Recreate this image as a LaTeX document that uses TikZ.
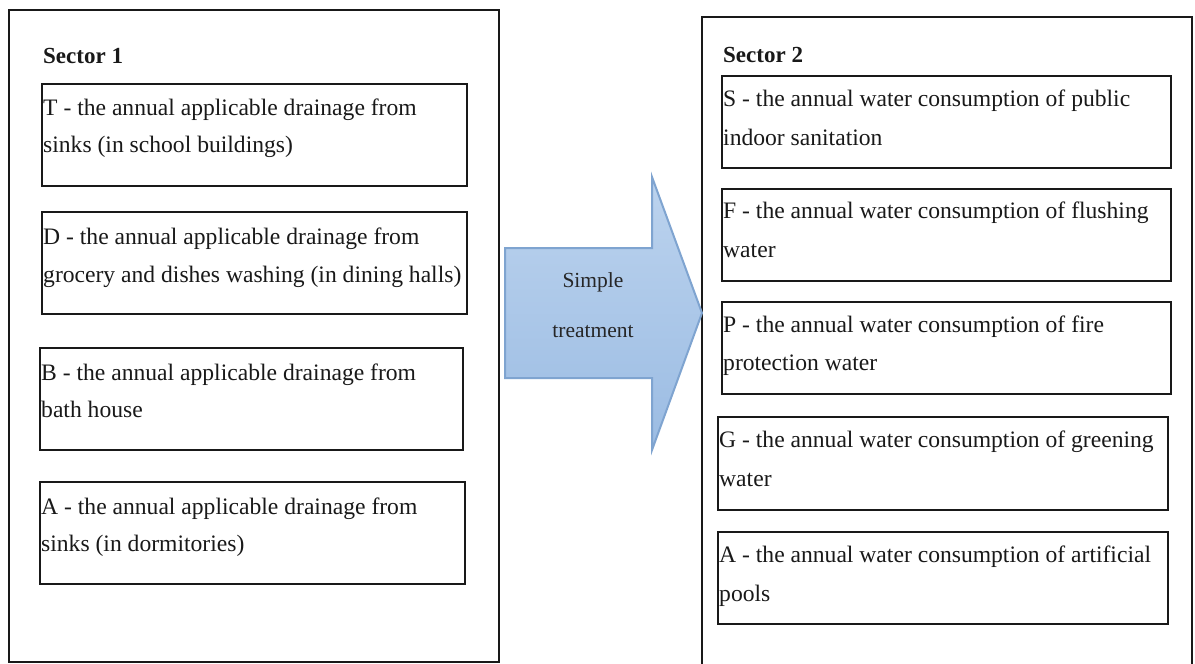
\documentclass[tikz,border=0pt]{standalone}
\usepackage{fontspec}
\setmainfont{Liberation Serif}
\begin{document}
\begin{tikzpicture}[x=1pt,y=-1pt,
  outerbox/.style={draw=black!90,line width=1.8pt},
  itembox/.style={draw=black!90,line width=1.8pt},
  itemtxt/.style={anchor=base west,inner sep=0pt,text=black!90,font=\fontsize{23.6}{28}\selectfont},
  headtxt/.style={anchor=base west,inner sep=0pt,text=black!90,font=\fontsize{23}{26}\selectfont\bfseries},
  arrowshape/.style={draw=arrowedge,line width=2pt,line join=miter,top color=arrowtop,bottom color=arrowbot}]
\definecolor{arrowtop}{HTML}{BCD3EE}
\definecolor{arrowbot}{HTML}{9BBCE3}
\definecolor{arrowedge}{HTML}{7FA4D0}
\clip (0,0) rectangle (1195,664);
\fill[white] (0,0) rectangle (1195,664);
% outer sector boxes
\draw[outerbox] (9,10) rectangle (499,662);
\draw[outerbox] (702,17) rectangle (1192,690);
\node[headtxt] (s1) at (43,63) {Sector 1};
\node[headtxt] (s2) at (723,62) {Sector 2};
% left boxes
\draw[itembox] (42,84) rectangle (467,186);
\node[itemtxt] (t1) at (43,115) {T - the annual applicable drainage from};
\node[itemtxt] (t2) at (43,152) {sinks (in school buildings)};
\draw[itembox] (42,212) rectangle (467,314);
\node[itemtxt] (d1) at (43,244) {D - the annual applicable drainage from};
\node[itemtxt] (d2) at (43,282) {grocery and dishes washing (in dining halls)};
\draw[itembox] (40,348) rectangle (463,450);
\node[itemtxt] (b1) at (41,380) {B - the annual applicable drainage from};
\node[itemtxt] (b2) at (41,417) {bath house};
\draw[itembox] (40,482) rectangle (465,584);
\node[itemtxt] (a1) at (41,514) {A - the annual applicable drainage from};
\node[itemtxt] (a2) at (41,551) {sinks (in dormitories)};
% right boxes
\draw[itembox] (722,76) rectangle (1171,168);
\node[itemtxt] (r1a) at (723,106) {S - the annual water consumption of public};
\node[itemtxt] (r1b) at (723,145) {indoor sanitation};
\draw[itembox] (722,189) rectangle (1171,281);
\node[itemtxt] (r2a) at (723,218) {F - the annual water consumption of flushing};
\node[itemtxt] (r2b) at (723,257) {water};
\draw[itembox] (722,302) rectangle (1171,394);
\node[itemtxt] (r3a) at (723,332) {P - the annual water consumption of fire};
\node[itemtxt] (r3b) at (723,370) {protection water};
\draw[itembox] (718,417) rectangle (1168,510);
\node[itemtxt] (r4a) at (719,447) {G - the annual water consumption of greening};
\node[itemtxt] (r4b) at (719,486) {water};
\draw[itembox] (718,532) rectangle (1168,624);
\node[itemtxt] (r5a) at (719,562) {A - the annual water consumption of artificial};
\node[itemtxt] (r5b) at (719,601) {pools};
% arrow
\draw[arrowshape] (505,248) -- (652,248) -- (652,177) -- (702,313) -- (652,450) -- (652,378) -- (505,378) -- cycle;
\node[inner sep=0pt,text=black!85,font=\fontsize{21.5}{26}\selectfont] (st1) at (593,282) {Simple};
\node[inner sep=0pt,text=black!85,font=\fontsize{21.5}{26}\selectfont] (st2) at (593,332) {treatment};
\end{tikzpicture}
\end{document}
